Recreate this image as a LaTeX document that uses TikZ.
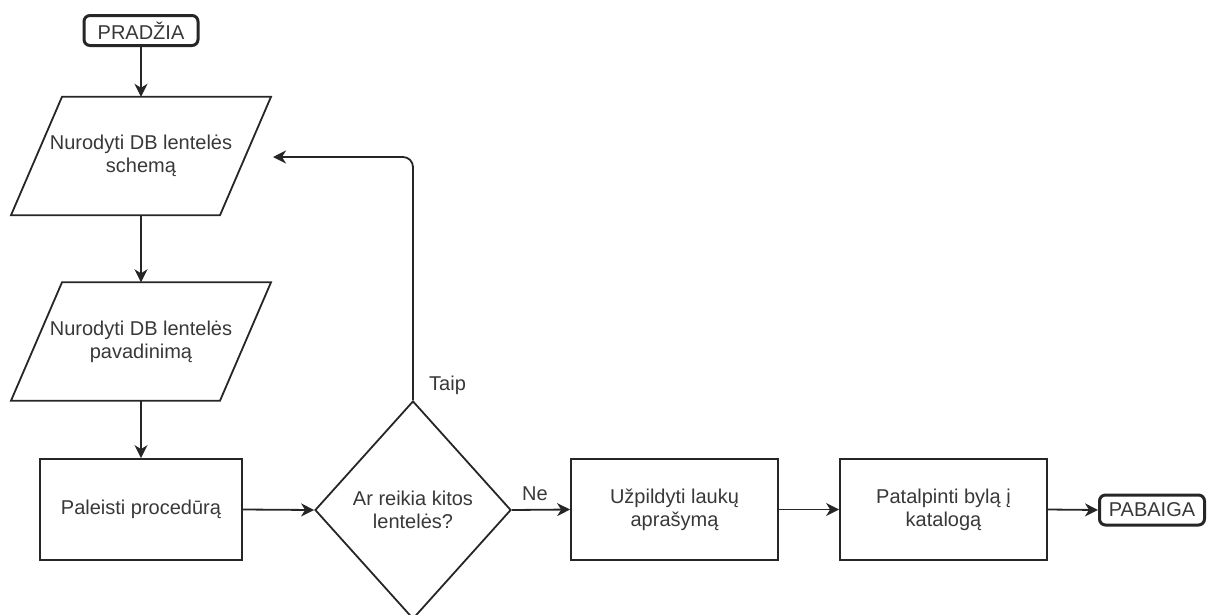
\documentclass[tikz,border=0pt]{standalone}
\usepackage{fontspec}
\setmainfont{Liberation Sans}
\usetikzlibrary{arrows.meta,shapes.geometric}
\begin{document}
\begin{tikzpicture}[x=1pt,y=-1pt,
  conn/.style={draw=black!85, line width=1.8pt},
  arr/.style={conn, -{Stealth[length=13pt,width=13pt,inset=4pt]}},
  txt/.style={font=\fontsize{20}{23}\selectfont, text=black!78, align=center},
  term/.style={txt, draw=black!85, line width=3pt, rounded corners=6pt, minimum height=30pt, inner sep=0pt},
  proc/.style={txt, conn, rectangle, minimum height=101pt, inner sep=0pt},
  para/.style={txt, minimum width=150pt, minimum height=118pt, inner sep=0pt},
  dec/.style={txt, conn, diamond, minimum width=196pt, minimum height=218pt, inner sep=0pt, aspect=0.9},
  lbl/.style={txt, anchor=west, inner sep=0pt}
]
\useasboundingbox (0,0) rectangle (1208,614);

\node[term, minimum width=114pt] (start) at (141,30.5) {PRADŽIA};

\node[para] (p1) at (141,156) {Nurodyti DB lentelės\\schemą};
\draw[conn] ([xshift=-79pt]p1.north) -- ([xshift=130pt]p1.north) -- ([xshift=79pt]p1.south) -- ([xshift=-130pt]p1.south) -- cycle;

\node[para] (p2) at (141,341.5) {Nurodyti DB lentelės\\pavadinimą};
\draw[conn] ([xshift=-79pt]p2.north) -- ([xshift=130pt]p2.north) -- ([xshift=79pt]p2.south) -- ([xshift=-130pt]p2.south) -- cycle;

\node[proc, minimum width=202pt] (r1) at (141,509.5) {Paleisti procedūrą};
\node[dec] (d) at (413,510) {Ar reikia kitos\\lentelės?};
\node[proc, minimum width=207pt] (r2) at (674.5,509.5) {Užpildyti laukų\\aprašymą};
\node[proc, minimum width=207pt] (r3) at (943.5,509.5) {Patalpinti bylą į\\katalogą};
\node[term, minimum width=105pt] (end) at (1152,510) {PABAIGA};

\coordinate (tp) at (273,157);

\draw[arr] (start.south) -- (p1.north);
\draw[arr] (p1.south) -- (p2.north);
\draw[arr] (p2.south) -- (r1.north);
\draw[arr] (r1.east) -- (d.west);
\draw[arr] (d.east) -- (r2.west);
\draw[arr] (r2.east) -- (r3.west);
\draw[arr] (r3.east) -- (end.west);
\draw[arr, rounded corners=10pt] (d.north) |- (tp);

\node[lbl] (taip) at (429,385) {Taip};
\node[lbl] (ne) at (522,494) {Ne};
\end{tikzpicture}
\end{document}
